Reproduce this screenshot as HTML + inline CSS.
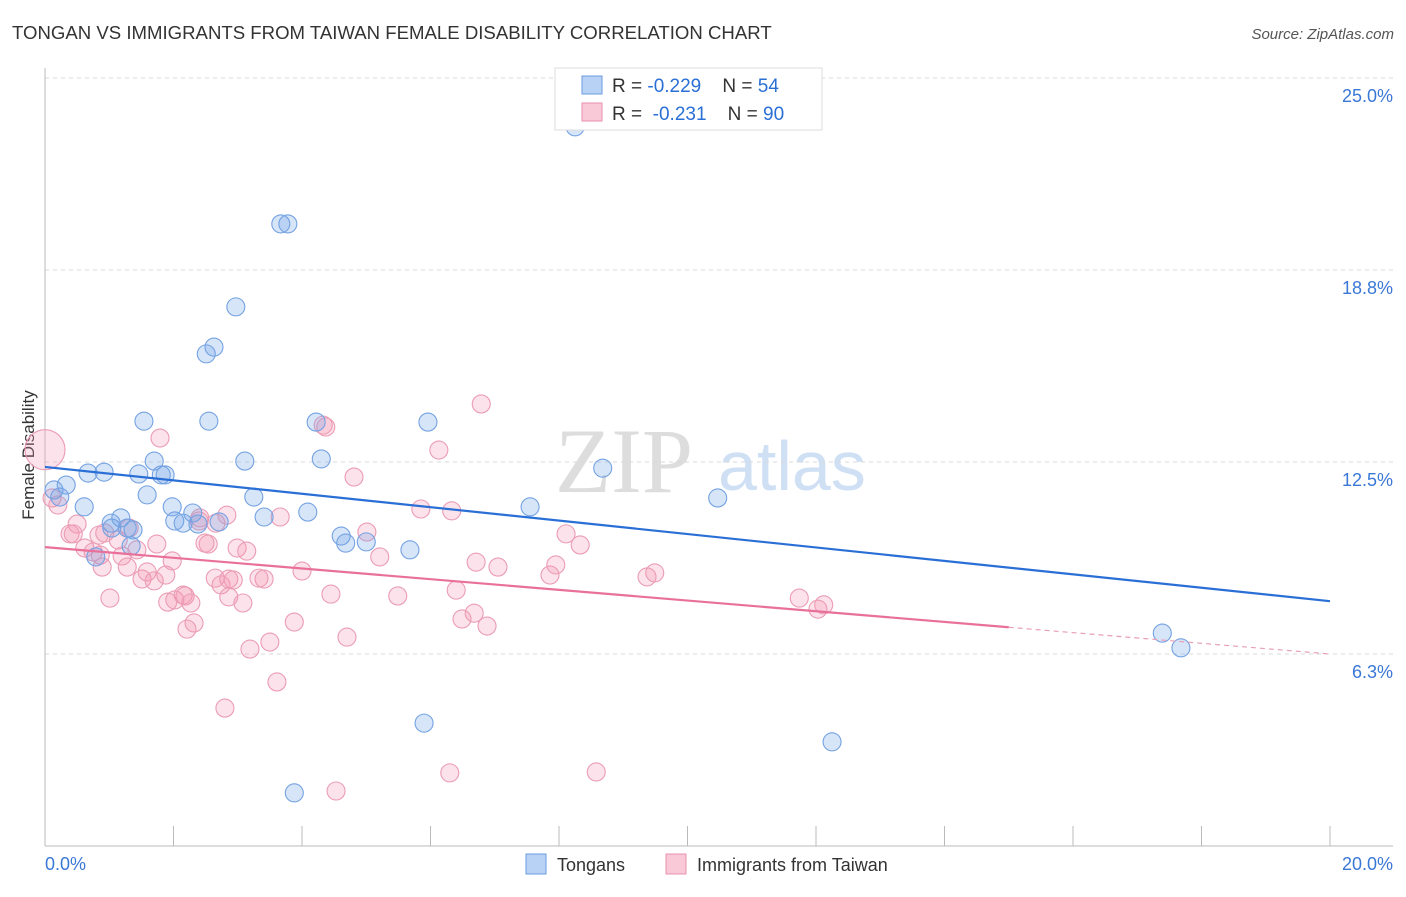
<!DOCTYPE html>
<html><head><meta charset="utf-8"><style>
body{margin:0;background:#fff;font-family:"Liberation Sans",sans-serif;}
</style></head><body>
<svg id="c" width="1406" height="892" xmlns="http://www.w3.org/2000/svg" style="font-family:'Liberation Sans',sans-serif">
<text x="12" y="39" font-size="18.6" fill="#333">TONGAN VS IMMIGRANTS FROM TAIWAN FEMALE DISABILITY CORRELATION CHART</text>
<text x="1394" y="39" font-size="15" fill="#555" text-anchor="end" font-style="italic">Source: ZipAtlas.com</text>
<text x="34" y="455" font-size="17" fill="#333" text-anchor="middle" transform="rotate(-90 34 455)">Female Disability</text>
<text x="555" y="492" font-size="92" fill="#ddd" font-family="Liberation Serif,serif">ZIP</text>
<text x="718" y="490" font-size="70" fill="#cfe0f5">atlas</text>
<g id="grid"></g><g id="axes"></g><g id="pts"></g><g id="lines"></g>
<g>
<rect x="555" y="68" width="267" height="62" fill="#fff" stroke="#ddd"/>
<rect x="582" y="76" width="20" height="18" fill="#b8d2f5" stroke="#6a9be0"/>
<text x="612" y="92" font-size="19" fill="#333" xml:space="preserve">R = <tspan fill="#2a6fd6">-0.229</tspan>    N = <tspan fill="#2a6fd6">54</tspan></text>
<rect x="582" y="103" width="20" height="18" fill="#f9c9d8" stroke="#e890ab"/>
<text x="612" y="120" font-size="19" fill="#333" xml:space="preserve">R =  <tspan fill="#2a6fd6">-0.231</tspan>    N = <tspan fill="#2a6fd6">90</tspan></text>
</g>
<g>
<rect x="526" y="854" width="20" height="20" fill="#b8d2f5" stroke="#6a9be0"/>
<text x="557" y="871" font-size="18" fill="#333">Tongans</text>
<rect x="666" y="854" width="20" height="20" fill="#f9c9d8" stroke="#e890ab"/>
<text x="697" y="871" font-size="18" fill="#333">Immigrants from Taiwan</text>
</g>
</svg>
<script>
const yTicks=[6.25,12.5,18.75,25];
const yTickLabels=["6.3%","12.5%","18.8%","25.0%"];
const xTickLabels=["0.0%","20.0%"];
const blueX=[8.25,3.67,3.78,2.97,2.63,2.51,1.54,2.55,4.22,5.96,1.70,3.11,4.30,8.68,0.67,0.92,1.46,1.81,1.87,0.14,0.33,0.23,1.59,3.25,10.47,0.61,1.98,2.30,4.09,7.55,3.41,2.02,2.15,1.03,1.18,2.38,2.71,1.04,1.28,1.37,4.61,4.68,5.00,5.68,0.79,1.34,17.39,17.68,5.90,12.25,3.88];
const blueY=[23.41,20.25,20.25,17.55,16.24,16.02,13.83,13.83,13.80,13.80,12.53,12.53,12.60,12.30,12.14,12.17,12.11,12.08,12.08,11.59,11.75,11.36,11.43,11.36,11.33,11.04,11.04,10.84,10.87,11.04,10.71,10.58,10.51,10.51,10.68,10.48,10.55,10.35,10.35,10.29,10.09,9.86,9.90,9.64,9.41,9.77,6.93,6.45,4.00,3.39,1.73];
const pinkX=[0,6.79,1.79,4.33,4.37,6.13,4.81,0.20,0.11,0.50,0.39,0.44,0.84,1.14,1.31,0.62,0.75,0.86,0.93,1.43,1.20,1.28,0.89,1.01,1.51,1.59,1.70,1.74,1.88,1.98,1.91,2.02,2.15,2.18,2.27,2.32,2.21,2.41,2.40,2.49,2.54,2.65,2.66,2.83,2.74,2.86,2.93,2.99,3.14,2.86,3.08,3.33,3.41,3.19,3.50,3.66,3.61,3.88,4.00,4.45,4.70,5.01,5.21,5.49,5.85,6.33,6.40,6.49,6.68,6.88,6.71,7.05,7.86,7.95,8.11,8.33,9.37,9.49,11.74,12.03,12.12,2.80,6.30,8.58,4.53];
const pinkY=[12.9,14.39,13.28,13.70,13.64,12.89,12.01,11.10,11.33,10.48,10.16,10.16,10.12,9.96,10.35,9.70,9.57,9.47,10.19,9.64,9.44,9.08,9.08,8.07,8.69,8.92,8.63,9.83,8.82,9.28,7.94,8.01,8.17,8.14,7.91,7.26,7.06,10.68,10.58,9.86,9.83,8.72,10.51,10.77,8.50,8.69,8.66,9.70,9.60,8.11,7.91,8.72,8.69,6.41,6.64,10.71,5.34,7.29,8.95,8.20,6.80,10.22,9.41,8.14,10.97,10.91,8.33,7.39,7.58,7.16,9.24,9.08,8.82,9.15,10.16,9.80,8.76,8.89,8.07,7.71,7.85,4.49,2.38,2.41,1.79];
const pinkBig=[0];
const blueTrend=[12.34,7.97];
const pinkTrend=[9.73,6.25];
const pinkSolidEnd=15;
const X0=45,X1=1330,Y0=846,Y1=78;
const xs=v=>X0+(v/20)*(X1-X0);
const ys=v=>Y0-(v/25)*(Y0-Y1);
const NS="http://www.w3.org/2000/svg";
function mk(t,a,p){const e=document.createElementNS(NS,t);for(const k in a)e.setAttribute(k,a[k]);p.appendChild(e);return e;}
const grid=document.getElementById('grid'),axes=document.getElementById('axes'),pts=document.getElementById('pts'),lines=document.getElementById('lines');
yTicks.forEach((t,i)=>{
 const l=mk('line',{x1:X0,x2:1393,y1:ys(t),y2:ys(t),stroke:'#d8d8d8','stroke-dasharray':'4,4'},grid);
 
 
 const tx=mk('text',{x:1393,y:ys(t)+24,'font-size':18,fill:'#3a78d6','text-anchor':'end'},grid);
 tx.textContent=yTickLabels[i];
 
 
});
let a=mk('line',{x1:X0,x2:X0,y1:68,y2:Y0,stroke:'#bbb'},axes);


a=mk('line',{x1:X0,x2:1393,y1:Y0,y2:Y0,stroke:'#bbb'},axes);


for(let i=0;i<=10;i++){
 const t=mk('line',{x1:xs(i*2),x2:xs(i*2),y1:826,y2:Y0,stroke:'#bbb'},axes);
 
 
}
[[0,'start',X0],[1,'end',1393]].forEach(([i,an,x])=>{
 const t=mk('text',{x:x,y:870,'font-size':18,fill:'#3a78d6','text-anchor':an},axes);
 t.textContent=xTickLabels[i];
 
 
});
pinkX.forEach((v,i)=>{
 const c=mk('circle',{cx:xs(v),cy:ys(pinkY[i]),r:pinkBig.includes(i)?20:9,fill:'rgba(244,150,180,0.28)',stroke:'#eb9cb5','stroke-width':1.1},pts);
 
 
});
blueX.forEach((v,i)=>{
 const c=mk('circle',{cx:xs(v),cy:ys(blueY[i]),r:9,fill:'rgba(110,160,230,0.28)',stroke:'#74a2e2','stroke-width':1.1},pts);
 
 
});
let ln=mk('line',{x1:xs(0),y1:ys(blueTrend[0]),x2:xs(20),y2:ys(blueTrend[1]),stroke:'#2a6fd6','stroke-width':2.2},lines);


const pm=pinkTrend[0]+(pinkTrend[1]-pinkTrend[0])*pinkSolidEnd/20;
ln=mk('line',{x1:xs(0),y1:ys(pinkTrend[0]),x2:xs(pinkSolidEnd),y2:ys(pm),stroke:'#e8709a','stroke-width':2.2},lines);


ln=mk('line',{x1:xs(pinkSolidEnd),y1:ys(pm),x2:xs(20),y2:ys(pinkTrend[1]),stroke:'#e8a0b8','stroke-width':1.2,'stroke-dasharray':'5,4'},lines);


</script>
</body></html>
